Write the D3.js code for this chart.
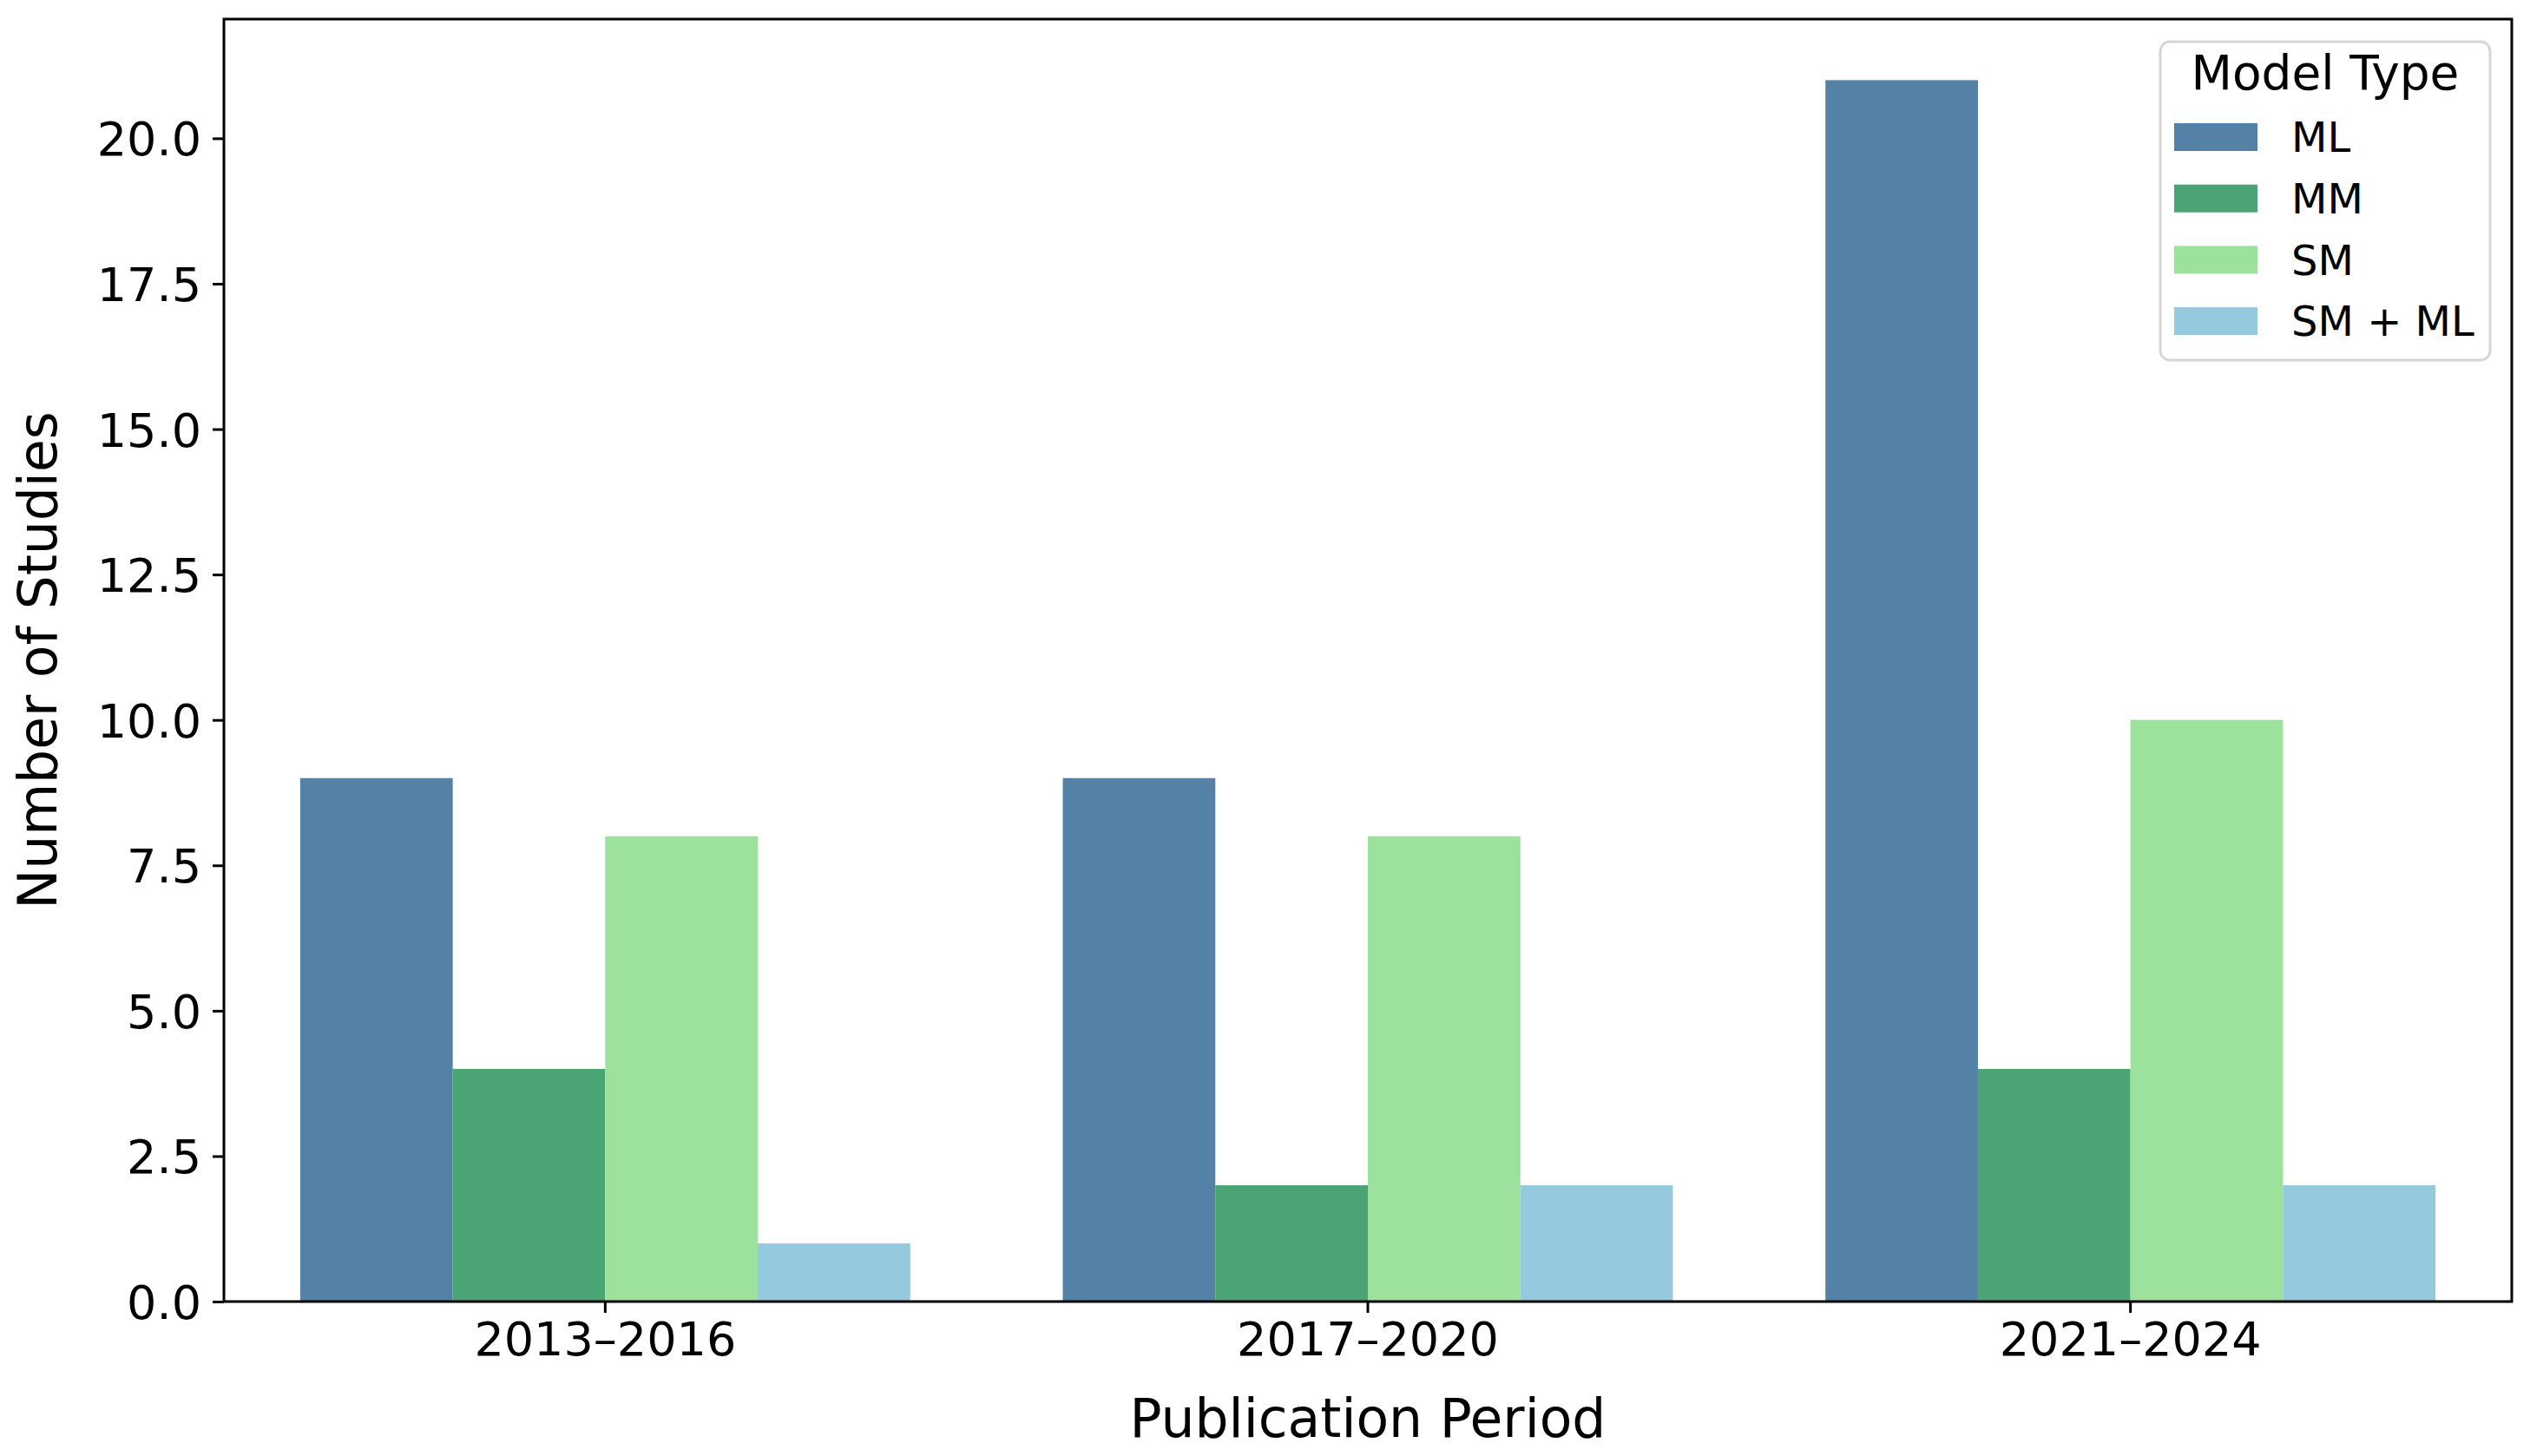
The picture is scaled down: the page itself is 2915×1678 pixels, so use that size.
<!DOCTYPE html>
<html>
<head>
<meta charset="utf-8">
<script src="https://cdn.jsdelivr.net/npm/d3@7"></script>
<style>
  html, body { margin: 0; padding: 0; background: #fff; }
  svg { display: block; font-family: "DejaVu Sans", sans-serif; }
</style>
</head>
<body>
<svg id="chart" width="2915" height="1678"></svg>
<script>
const categories = ["2013\u20132016", "2017\u20132020", "2021\u20132024"];
const seriesNames = ["ML", "MM", "SM", "SM + ML"];
const valuesML = [9, 9, 21];
const valuesMM = [4, 2, 4];
const valuesSM = [8, 8, 10];
const valuesSMML = [1, 2, 2];
const yTicks = [0, 2.5, 5, 7.5, 10, 12.5, 15, 17.5, 20];
const xLabel = "Publication Period";
const yLabel = "Number of Studies";
const legendTitle = "Model Type";

const seriesValues = [valuesML, valuesMM, valuesSM, valuesSMML];
const baseColors = ["steelblue", "mediumseagreen", "lightgreen", "skyblue"];
// seaborn-style desaturation (saturation = 0.75)
const colors = baseColors.map(c => { const h = d3.hsl(c); h.s *= 0.75; return h.formatHex(); });

const W = 2915, H = 1678;
const margin = { left: 258, top: 22, right: 21, bottom: 178 };
const iw = W - margin.left - margin.right;
const ih = H - margin.top - margin.bottom;

const svg = d3.select("#chart");
const g = svg.append("g").attr("transform", `translate(${margin.left},${margin.top})`);

const x = d3.scaleBand().domain(categories).range([0, iw]).paddingInner(0.2).paddingOuter(0.1);
const x1 = d3.scaleBand().domain(seriesNames).range([0, x.bandwidth()]).padding(0);
const yMax = d3.max(seriesValues.flat()) * 1.05;
const y = d3.scaleLinear().domain([0, yMax]).range([ih, 0]);
const color = d3.scaleOrdinal().domain(seriesNames).range(colors);

const rows = [];
categories.forEach((c, i) => seriesNames.forEach((s, j) => rows.push({ cat: c, series: s, value: seriesValues[j][i] })));

g.selectAll("rect.bar").data(rows).join("rect")
  .attr("class", "bar")
  .attr("x", d => x(d.cat) + x1(d.series))
  .attr("width", x1.bandwidth())
  .attr("y", d => y(d.value))
  .attr("height", d => y(0) - y(d.value))
  .attr("fill", d => color(d.series));

// axes
const tickFont = 54;
const yAxis = g.append("g").call(d3.axisLeft(y).tickValues(yTicks).tickFormat(d3.format(".1f")).tickSize(13).tickPadding(13));
const xAxis = g.append("g").attr("transform", `translate(0,${ih})`).call(d3.axisBottom(x).tickSize(13).tickPadding(10));
[yAxis, xAxis].forEach(a => {
  a.select(".domain").remove();
  a.selectAll(".tick line").attr("stroke", "#000").attr("stroke-width", 3);
  a.selectAll(".tick text").attr("fill", "#000").style("font-size", tickFont + "px").style("font-family", "DejaVu Sans");
});
yAxis.selectAll(".tick text").attr("dy", "0.36em");
xAxis.selectAll(".tick text").attr("dy", "0.72em");

// frame
g.append("rect").attr("x", 0).attr("y", 0).attr("width", iw).attr("height", ih)
  .attr("fill", "none").attr("stroke", "#000").attr("stroke-width", 3);

// axis labels
svg.append("text").attr("x", margin.left + iw / 2).attr("y", 1656)
  .attr("text-anchor", "middle").style("font-size", "61.5px").attr("fill", "#000").text(xLabel);
svg.append("text").attr("transform", `translate(65,${margin.top + ih / 2}) rotate(-90)`)
  .attr("text-anchor", "middle").style("font-size", "61.5px").attr("fill", "#000").text(yLabel);

// legend
const leg = svg.append("g").attr("transform", "translate(2489,48)");
leg.append("rect").attr("width", 380).attr("height", 367).attr("rx", 11).attr("ry", 11)
  .attr("fill", "#fff").attr("fill-opacity", 0.8).attr("stroke", "#d6d6d6").attr("stroke-width", 3);
leg.append("text").attr("x", 190).attr("y", 55).attr("text-anchor", "middle")
  .style("font-size", "55px").attr("fill", "#000").text(legendTitle);
const items = leg.selectAll("g.item").data(seriesNames).join("g").attr("class", "item")
  .attr("transform", (d, i) => `translate(16,${94 + i * 70.7})`);
items.append("rect").attr("width", 96).attr("height", 32).attr("fill", d => color(d));
items.append("text").attr("x", 135).attr("y", 16).attr("dy", "0.36em")
  .style("font-size", "48px").attr("fill", "#000").text(d => d);
</script>
</body>
</html>
